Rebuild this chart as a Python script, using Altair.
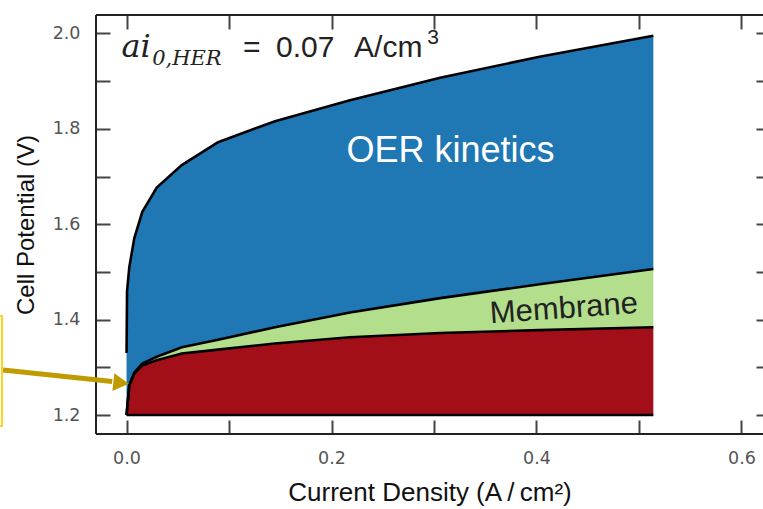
import altair as alt
import pandas as pd

# ---------------- data ----------------
current = [0, 0.0005, 0.0027, 0.0076, 0.0154, 0.0295, 0.0539, 0.0893,
           0.1449, 0.218, 0.306, 0.403, 0.514]
baseline_v = [1.2, 1.2, 1.2, 1.2, 1.2, 1.2, 1.2, 1.2, 1.2, 1.2, 1.2, 1.2, 1.2]
her_top = [1.200, 1.212, 1.262, 1.287, 1.304, 1.315, 1.329, 1.337,
           1.350, 1.363, 1.372, 1.378, 1.384]
membrane_top = [1.200, 1.212, 1.263, 1.289, 1.308, 1.322, 1.342, 1.358,
                1.384, 1.415, 1.445, 1.474, 1.506]
oer_top = [1.330, 1.460, 1.510, 1.571, 1.626, 1.677, 1.724, 1.772,
           1.816, 1.860, 1.907, 1.951, 1.995]

bands = ["HER", "Membrane", "OER kinetics"]
band_colors = ["#A20F18", "#B3DE8C", "#1F77B4"]

x_ticks = [0.0, 0.1, 0.2, 0.3, 0.4, 0.5, 0.6]
y_ticks = [1.2, 1.3, 1.4, 1.5, 1.6, 1.7, 1.8, 1.9, 2.0]
x_domain = [-0.0298, 0.621]
y_domain = [1.1602, 2.0386]

# annotation anchors (data units)
arrow_x = [-0.1205, -0.0140]
arrow_y = [1.2943, 1.2704]
arrow_head = {"x": [-0.0053], "y": [1.2671]}
box = {"x": [-0.30], "x2": [-0.1215], "y": [1.1769], "y2": [1.4075]}

W, H = 667, 419

# ---------------- tables ----------------
rows = []
for i, jv in enumerate(current):
    rows.append({"j": jv, "band": bands[0], "lo": baseline_v[i], "hi": her_top[i]})
    rows.append({"j": jv, "band": bands[1], "lo": her_top[i], "hi": membrane_top[i]})
    rows.append({"j": jv, "band": bands[2], "lo": membrane_top[i], "hi": oer_top[i]})
area_df = pd.DataFrame(rows)

line_rows = []
for name, vals in [("base", baseline_v), ("her", her_top),
                   ("mem", membrane_top), ("oer", oer_top)]:
    for jv, v in zip(current, vals):
        line_rows.append({"j": jv, "s": name, "v": v})
line_df = pd.DataFrame(line_rows)

xs = alt.Scale(domain=x_domain, nice=False, zero=False)
ys = alt.Scale(domain=y_domain, nice=False, zero=False)

lab_expr = "round(datum.value*10) % 2 === 0 ? format(datum.value, '.1f') : ''"
tick_col = "#444444"

x_bottom = alt.Axis(orient="bottom", values=x_ticks, labelExpr=lab_expr, domain=False,
                    grid=False, tickSize=14, tickWidth=2, tickColor=tick_col, offset=-14,
                    labelFont="DejaVu Sans", labelFontSize=17.5, labelColor="#555555",
                    labelPadding=15, labelOverlap=False, labelFlush=False,
                    title="Current Density (A\u2009/\u2009cm²)", titleFont="Liberation Sans",
                    titleFontSize=26, titleFontWeight="normal", titleColor="#111111",
                    titlePadding=13)
y_left = alt.Axis(orient="left", values=y_ticks, labelExpr=lab_expr, domain=False,
                  grid=False, tickSize=14, tickWidth=2, tickColor=tick_col, offset=-14,
                  labelFont="DejaVu Sans", labelFontSize=17.5, labelColor="#555555",
                  labelPadding=16, labelOverlap=False, labelFlush=False,
                  title="Cell Potential (V)", titleFont="Liberation Sans",
                  titleFontSize=24, titleFontWeight="normal", titleColor="#111111",
                  titlePadding=14)
x_top = alt.Axis(orient="top", values=x_ticks, labels=False, domain=False, grid=False,
                 tickSize=14, tickWidth=2, tickColor=tick_col, offset=-14, title=None)
y_right = alt.Axis(orient="right", values=y_ticks, labels=False, domain=False, grid=False,
                   tickSize=14, tickWidth=2, tickColor=tick_col, offset=-7, title=None)

areas = alt.Chart(area_df).mark_area(interpolate="linear", opacity=1).encode(
    x=alt.X("j:Q", scale=xs, axis=x_bottom),
    y=alt.Y("lo:Q", scale=ys, axis=y_left),
    y2="hi:Q",
    color=alt.Color("band:N", scale=alt.Scale(domain=bands, range=band_colors), legend=None),
    detail="band:N",
)

lines = alt.Chart(line_df).mark_line(color="#000000", strokeWidth=2.6).encode(
    x=alt.X("j:Q", scale=xs, axis=x_top),
    y=alt.Y("v:Q", scale=ys, axis=y_right),
    detail="s:N",
)

# frame (left, top, bottom)
frame_left = alt.Chart(pd.DataFrame({"k": [0]})).mark_rule(color="#222222", strokeWidth=2).encode(
    x=alt.value(0), y=alt.value(0), y2=alt.value(H))
frame_top = alt.Chart(pd.DataFrame({"k": [0]})).mark_rule(color="#222222", strokeWidth=2).encode(
    x=alt.value(0), x2=alt.value(W), y=alt.value(0))
frame_bottom = alt.Chart(pd.DataFrame({"k": [0]})).mark_rule(color="#222222", strokeWidth=2).encode(
    x=alt.value(0), x2=alt.value(W), y=alt.value(H))

# yellow box and arrow
box_layer = alt.Chart(pd.DataFrame(box)).mark_rect(fill=None, stroke="#FFD21F", strokeWidth=2).encode(
    x=alt.X("x:Q", scale=xs, axis=None), x2="x2:Q",
    y=alt.Y("y:Q", scale=ys, axis=None), y2="y2:Q")
arrow_line = alt.Chart(pd.DataFrame({"x": arrow_x, "y": arrow_y})).mark_line(
    color="#BF9B00", strokeWidth=5).encode(
    x=alt.X("x:Q", scale=xs, axis=None), y=alt.Y("y:Q", scale=ys, axis=None))
arrow_tip = alt.Chart(pd.DataFrame(arrow_head)).mark_point(
    shape="triangle-right", filled=True, size=324, angle=6.3, color="#BF9B00", opacity=1).encode(
    x=alt.X("x:Q", scale=xs, axis=None), y=alt.Y("y:Q", scale=ys, axis=None))

# texts
def txt(df, **kw):
    return alt.Chart(pd.DataFrame(df)).mark_text(**kw).encode(
        x=alt.X("x:Q", scale=xs, axis=None), y=alt.Y("y:Q", scale=ys, axis=None), text="t:N")

t_ai = txt({"x": [-0.0050], "y": [1.9512], "t": ["ai"]}, font="DejaVu Serif", fontStyle="italic",
           fontSize=32, align="left", baseline="alphabetic", color="#222222")
t_sub = txt({"x": [0.0250], "y": [1.9338], "t": ["0,HER"]}, font="DejaVu Serif", fontStyle="italic",
            fontSize=21, align="left", baseline="alphabetic", color="#222222")
t_eq = txt({"x": [0.1137, 0.1459, 0.2220], "y": [1.9499, 1.9499, 1.9499], "t": ["=", "0.07", "A/cm"]},
           font="Liberation Sans", fontSize=30, align="left", baseline="alphabetic", color="#222222")
t_sup = txt({"x": [0.2935], "y": [1.9788], "t": ["3"]}, font="Liberation Sans", fontSize=21,
            align="left", baseline="alphabetic", color="#222222")
t_oer = txt({"x": [0.3161], "y": [1.731], "t": ["OER kinetics"]}, font="Liberation Sans",
            fontSize=36, align="center", baseline="alphabetic", color="#FFFFFF")
t_mem = txt({"x": [0.4273], "y": [1.4033], "t": ["Membrane"]}, font="Liberation Sans",
            fontSize=31, align="center", baseline="alphabetic", color="#222222", angle=356)

chart = alt.layer(
    areas, lines, frame_left, frame_top, frame_bottom, box_layer, arrow_line, arrow_tip,
    t_ai, t_sub, t_eq, t_sup, t_oer, t_mem,
).resolve_axis(x="independent", y="independent").properties(
    width=W, height=H,
    padding={"left": 96, "top": 15, "right": 0, "bottom": 75},
    autosize=alt.AutoSizeParams(type="none"),
    background="white",
).configure_view(stroke=None)

chart.save("out.html", embed_options={"renderer": "svg", "actions": False})
